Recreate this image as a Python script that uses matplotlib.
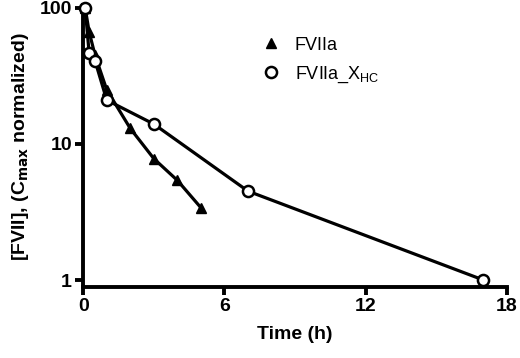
import matplotlib
matplotlib.use("Agg")
import matplotlib.pyplot as plt
from matplotlib.ticker import FixedLocator, NullLocator, FixedFormatter

plt.rcParams['font.family'] = ['Liberation Sans', 'DejaVu Sans']
plt.rcParams['font.weight'] = 'bold'

t_fviia = [0.083, 0.25, 0.5, 1, 2, 3, 4, 5]
v_fviia = [100, 67, 45, 25, 13, 7.8, 5.4, 3.4]
t_xhc = [0.083, 0.25, 0.5, 1, 3, 7, 17]
v_xhc = [100, 47, 41, 21, 14, 4.5, 1.0]
xticks = [0, 6, 12, 18]
yticks = [1, 10, 100]
ytick_labels = ['1', '10', '100']

fig = plt.figure(figsize=(5.2, 3.58), dpi=100)
ax = fig.add_axes([0.16, 0.198, 0.815, 0.788])

ax.plot(t_fviia, v_fviia, color='black', lw=2.3, marker='^', ms=7,
        mfc='black', mec='black', label='FVIIa', clip_on=False, zorder=3)
ax.plot(t_xhc, v_xhc, color='black', lw=2.3, marker='o', ms=8,
        mfc='white', mec='black', mew=1.8, label='FVIIa_X$\\mathregular{_{HC}}$',
        clip_on=False, zorder=3)

ax.set_yscale('log')
ax.set_xlim(0, 18)
ax.set_ylim(0.887, 105)
ax.xaxis.set_major_locator(FixedLocator(xticks))
ax.yaxis.set_major_locator(FixedLocator(yticks))
ax.yaxis.set_major_formatter(FixedFormatter(ytick_labels))
ax.yaxis.set_minor_locator(NullLocator())

for s in ['top', 'right']:
    ax.spines[s].set_visible(False)
for s in ['left', 'bottom']:
    ax.spines[s].set_linewidth(2.8)

ax.tick_params(axis='both', direction='out', length=6, width=2.8,
               labelsize=14, pad=2)
for lab in ax.get_xticklabels() + ax.get_yticklabels():
    lab.set_fontweight('bold')

ax.set_xlabel('Time (h)', fontsize=14, fontweight='bold', labelpad=8)
ax.set_ylabel('[FVII], (C$_{\\mathbf{max}}$ normalized)', fontsize=14,
              fontweight='bold', labelpad=6)

leg = ax.legend(loc='upper left', bbox_to_anchor=(0.384, 0.945), frameon=False,
                fontsize=13, handlelength=1.0, labelspacing=0.6,
                handletextpad=0.8, borderpad=0.4)
for line in leg.get_lines():
    line.set_linestyle('none')
for txt in leg.get_texts():
    txt.set_fontweight('normal')

fig.savefig('out.png', dpi=100)
